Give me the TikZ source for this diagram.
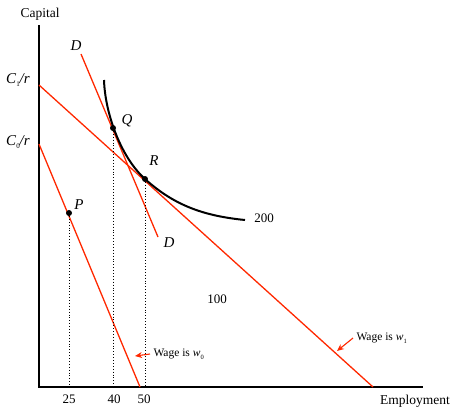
\documentclass[tikz,border=0pt]{standalone}
\usepackage{fontspec}
\setmainfont{Liberation Serif}
\usetikzlibrary{arrows.meta}
\definecolor{costred}{RGB}{255,40,0}
\newcommand{\lowsub}[2][7]{\raisebox{-0.5ex}{\upshape\fontsize{#1}{#1}\selectfont #2}}
\begin{document}
\begin{tikzpicture}[x=1pt,y=-1pt,
  isocost/.style={costred,line width=1.3pt},
  guide/.style={dotted,line width=0.9pt},
  axislbl/.style={font=\fontsize{13.5}{15}\selectfont},
  ticklbl/.style={font=\fontsize{13}{15}\selectfont},
  ptlbl/.style={font=\fontsize{15}{17}\selectfont\itshape},
  wagelbl/.style={font=\fontsize{11.5}{13}\selectfont,anchor=west},
  wagearrow/.style={costred,line width=1.1pt,-{Stealth[length=7pt,width=6pt]}}]
\useasboundingbox (0,0) rectangle (452,408);
% axes
\coordinate (O) at (39,387);
\coordinate (ytop) at (39,25);
\coordinate (xend) at (423,387);
\draw[line width=1.2pt] (ytop) -- (O) -- (xend);
\node[axislbl] (ylab) at (40,14) {Capital};
\node[axislbl] (xlab) at (415,401) {Employment};
% isocost lines
\coordinate (c1) at (39,85);
\coordinate (c1end) at (373,387);
\coordinate (c0) at (39,144);
\coordinate (c0end) at (140,387);
\draw[isocost] (c1) -- (c1end);
\draw[isocost] (c0) -- (c0end);
\node[ptlbl] (c1lbl) at (18,80) {C\lowsub{1}/r};
\node[ptlbl] (c0lbl) at (18,142) {C\lowsub{0}/r};
% DD line
\coordinate (dtop) at (81,54);
\coordinate (dbot) at (158,237);
\draw[isocost] (dtop) -- (dbot);
\node[ptlbl] (dtoplbl) at (76,46) {D};
\node[ptlbl] (dbotlbl) at (169,243) {D};
% isoquant 200
\coordinate (Q) at (113,128);
\coordinate (R) at (145,179);
\coordinate (P) at (69,213);
\draw[line width=2pt] (104,80) .. controls (105,112) and (120,156.4) .. (R)
  .. controls (175,206.1) and (205,216) .. (245,220);
\node[ticklbl] (q200) at (264,218) {200};
\node[ticklbl] (q100) at (217,299) {100};
% points and guides
\coordinate (Pax) at (69,387);
\coordinate (Qax) at (113,387);
\coordinate (Rax) at (145,387);
\draw[guide] (P) -- (Pax);
\draw[guide] (Q) -- (Qax);
\draw[guide] (R) -- (Rax);
\fill (P) circle (3pt);
\fill (Q) circle (3pt);
\fill (R) circle (3pt);
\node[ptlbl] (plbl) at (79,205) {P};
\node[ptlbl] (qlbl) at (127,121) {Q};
\node[ptlbl] (rlbl) at (154,161) {R};
\node[ticklbl] (t25) at (69,399) {25};
\node[ticklbl] (t40) at (114,399) {40};
\node[ticklbl] (t50) at (144,399) {50};
% wage labels
\coordinate (w0tip) at (135,356);
\coordinate (w1tip) at (337,351);
\node[wagelbl] (w0lbl) at (150,354) {Wage is \textit{w}\lowsub[6.5]{0}};
\node[wagelbl] (w1lbl) at (353,338) {Wage is \textit{w}\lowsub[6.5]{1}};
\draw[wagearrow] (w0lbl.west) -- (w0tip);
\draw[wagearrow] (w1lbl.west) -- (w1tip);
\end{tikzpicture}
\end{document}
